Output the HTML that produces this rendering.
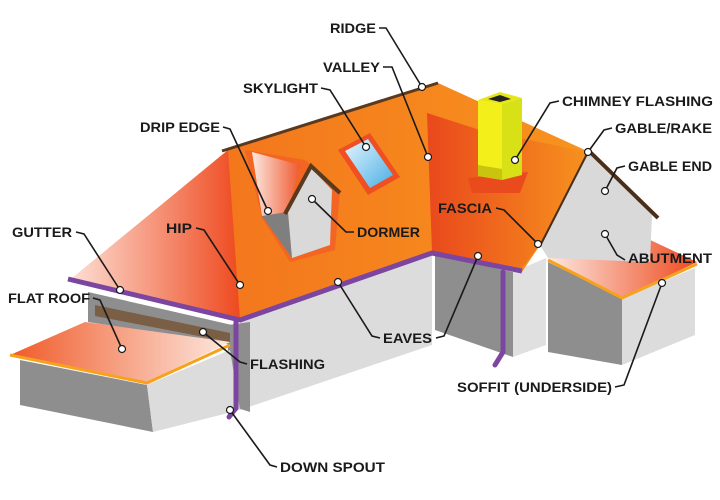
<!DOCTYPE html>
<html><head><meta charset="utf-8"><style>html,body{margin:0;padding:0;background:#fff}svg{display:block}</style></head><body>
<svg width="720" height="500" viewBox="0 0 720 500" xmlns="http://www.w3.org/2000/svg">
<defs>
<linearGradient id="hip" x1="0" y1="0" x2="1" y2="0"><stop offset="0" stop-color="#fde0d6"/><stop offset="1" stop-color="#ee4a1f"/></linearGradient>
<linearGradient id="roof" x1="0" y1="0" x2="1" y2="0"><stop offset="0" stop-color="#f26a1c"/><stop offset="1" stop-color="#f7931e"/></linearGradient>
<linearGradient id="cross" x1="0" y1="0" x2="1" y2="0"><stop offset="0" stop-color="#e9481c"/><stop offset="1" stop-color="#f7921e"/></linearGradient>
<linearGradient id="flat" x1="0" y1="0" x2="1" y2="0"><stop offset="0" stop-color="#f05a28"/><stop offset="1" stop-color="#fde8e0"/></linearGradient>
<linearGradient id="abut" x1="0" y1="0" x2="1" y2="0"><stop offset="0" stop-color="#fde8e0"/><stop offset="1" stop-color="#ee4a1f"/></linearGradient>
<linearGradient id="dormside" x1="0" y1="0" x2="1" y2="0"><stop offset="0" stop-color="#fde8e0"/><stop offset="1" stop-color="#ef5a30"/></linearGradient>
<linearGradient id="sky" x1="0" y1="0" x2="1" y2="1"><stop offset="0" stop-color="#e6f6fd"/><stop offset="1" stop-color="#4aaee6"/></linearGradient>
</defs>
<!-- wing walls -->
<polygon points="548,262 622,298 622,365 548,352" fill="#8e8e8e"/>
<polygon points="622,298 695,268 695,335 622,365" fill="#dcdcdc"/>
<polygon points="548,258 612,222 697,262 622,298" fill="url(#abut)"/>
<polyline points="548,260 622,298 697,264" fill="none" stroke="#f6a21c" stroke-width="3"/>
<!-- gable end -->
<polygon points="588,152 652,215 650,262 548,258 540,245" fill="#d9d9d9"/>
<!-- main walls -->
<polygon points="240,322 432,255 432,345 240,410" fill="#dcdcdc"/>
<polygon points="228,325 250,322 250,412 228,405" fill="#8e8e8e"/>
<polygon points="435,255 513,272 513,357 435,330" fill="#8e8e8e"/>
<polygon points="513,272 546,258 546,345 513,357" fill="#e0e0e0"/>
<!-- back wall / flashing behind flat roof -->
<polygon points="88,292 232,325 232,345 88,322" fill="#8e8e8e"/>
<polygon points="95,305 230,333 230,342 95,316" fill="#7a5e45"/>
<!-- flat roof box -->
<polygon points="20,360 147,385 153,432 20,405" fill="#8e8e8e"/>
<polygon points="147,385 230,350 240,410 153,432" fill="#dcdcdc"/>
<polygon points="10,355 85,322 230,342 147,382" fill="url(#flat)"/>
<polyline points="10,355 147,383 230,345" fill="none" stroke="#f6a21c" stroke-width="3"/>
<!-- main roof -->
<polygon points="70,280 228,150 438,83 585,150 540,245 522,272 432,252 240,320" fill="url(#roof)"/>
<polygon points="70,280 228,150 240,320" fill="url(#hip)"/>
<polygon points="427,113 480,130 588,152 540,245 522,268 432,252" fill="url(#cross)"/>
<!-- dormer -->
<polygon points="245,150 305,160 340,190 335,250 290,262 262,218" fill="#f26522"/>
<polygon points="252,152 300,165 288,212 262,216" fill="url(#dormside)"/>
<polygon points="262,216 288,212 292,258" fill="#7f7f7f"/>
<polygon points="288,212 311,168 332,190 330,245 292,258" fill="#d9d9d9"/>
<polyline points="285,214 311,166 340,193" fill="none" stroke="#5a3a1e" stroke-width="4"/>
<!-- skylight -->
<polygon points="338,150 370,133 400,177 368,195" fill="#f04e23"/>
<polygon points="345,151 368,139 393,175 370,188" fill="url(#sky)"/>
<!-- chimney -->
<polygon points="468,178 528,172 520,193 472,193" fill="#ea4b1c"/>
<polygon points="478,100 502,104 502,180 478,176" fill="#f3ef1a"/>
<polygon points="502,104 522,98 522,175 502,180" fill="#d8e016"/>
<polygon points="478,100 500,92 522,98 502,104" fill="#e5e51a"/>
<polygon points="488,99 500,95 511,99 500,102" fill="#222"/>
<polygon points="478,165 502,169 502,180 478,176" fill="#c8c410"/>
<!-- ridge, rake lines -->
<line x1="222" y1="151" x2="438" y2="83" stroke="#5a3a1e" stroke-width="3"/>
<line x1="588" y1="150" x2="658" y2="218" stroke="#4a2e18" stroke-width="4"/>
<line x1="589" y1="150" x2="540" y2="246" stroke="#4a2e18" stroke-width="2"/>
<!-- gutters -->
<polyline points="68,279 240,320 432,253 522,271" fill="none" stroke="#7b45a0" stroke-width="5" stroke-linejoin="round"/>
<polyline points="236,322 236,408 229,417" fill="none" stroke="#7b45a0" stroke-width="5" stroke-linecap="round"/>
<polyline points="503,272 503,352 495,365" fill="none" stroke="#7b45a0" stroke-width="5" stroke-linecap="round"/>
<!-- leaders -->
<g fill="none" stroke="#1a1a1a" stroke-width="1.6">
<polyline points="379,28 386,28 422,87"/>
<polyline points="383,67 392,67 428,157"/>
<polyline points="321,88 330,90 366,147"/>
<polyline points="223,127 230,129 268,211"/>
<polyline points="76,232 84,234 120,290"/>
<polyline points="196,228 204,230 240,285"/>
<polyline points="93,298 100,300 122,349"/>
<polyline points="354,232 346,232 312,199"/>
<polyline points="496,208 504,210 538,244"/>
<polyline points="559,101 550,103 515,160"/>
<polyline points="612,128 604,130 588,152"/>
<polyline points="625,166 617,168 605,191"/>
<polyline points="625,260 617,255 605,234"/>
<polyline points="380,338 372,336 338,282"/>
<polyline points="436,338 444,336 478,256"/>
<polyline points="247,364 240,362 203,332"/>
<polyline points="615,387 624,385 662,283"/>
<polyline points="277,467 270,465 230,410"/>
</g>
<g fill="#fff" stroke="#1a1a1a" stroke-width="1.2">
<circle cx="422" cy="87" r="3.5"/><circle cx="428" cy="157" r="3.5"/><circle cx="366" cy="147" r="3.5"/>
<circle cx="268" cy="211" r="3.5"/><circle cx="120" cy="290" r="3.5"/><circle cx="240" cy="285" r="3.5"/>
<circle cx="122" cy="349" r="3.5"/><circle cx="312" cy="199" r="3.5"/><circle cx="538" cy="244" r="3.5"/>
<circle cx="515" cy="160" r="3.5"/><circle cx="588" cy="152" r="3.5"/><circle cx="605" cy="191" r="3.5"/>
<circle cx="605" cy="234" r="3.5"/><circle cx="338" cy="282" r="3.5"/><circle cx="478" cy="256" r="3.5"/>
<circle cx="203" cy="332" r="3.5"/><circle cx="662" cy="283" r="3.5"/><circle cx="230" cy="410" r="3.5"/>
</g>
<g font-family="Liberation Sans, sans-serif" font-weight="bold" font-size="14" fill="#1a1a1a">
<text x="330" y="33" textLength="46" lengthAdjust="spacingAndGlyphs">RIDGE</text>
<text x="323" y="72" textLength="57" lengthAdjust="spacingAndGlyphs">VALLEY</text>
<text x="243" y="93" textLength="75" lengthAdjust="spacingAndGlyphs">SKYLIGHT</text>
<text x="140" y="132" textLength="80" lengthAdjust="spacingAndGlyphs">DRIP EDGE</text>
<text x="12" y="237" textLength="60" lengthAdjust="spacingAndGlyphs">GUTTER</text>
<text x="166" y="233" textLength="26" lengthAdjust="spacingAndGlyphs">HIP</text>
<text x="8" y="303" textLength="82" lengthAdjust="spacingAndGlyphs">FLAT ROOF</text>
<text x="357" y="237" textLength="63" lengthAdjust="spacingAndGlyphs">DORMER</text>
<text x="438" y="213" textLength="54" lengthAdjust="spacingAndGlyphs">FASCIA</text>
<text x="562" y="106" textLength="151" lengthAdjust="spacingAndGlyphs">CHIMNEY FLASHING</text>
<text x="615" y="133" textLength="97" lengthAdjust="spacingAndGlyphs">GABLE/RAKE</text>
<text x="628" y="171" textLength="84" lengthAdjust="spacingAndGlyphs">GABLE END</text>
<text x="628" y="263" textLength="84" lengthAdjust="spacingAndGlyphs">ABUTMENT</text>
<text x="383" y="343" textLength="49" lengthAdjust="spacingAndGlyphs">EAVES</text>
<text x="250" y="369" textLength="75" lengthAdjust="spacingAndGlyphs">FLASHING</text>
<text x="457" y="392" textLength="155" lengthAdjust="spacingAndGlyphs">SOFFIT (UNDERSIDE)</text>
<text x="280" y="472" textLength="105" lengthAdjust="spacingAndGlyphs">DOWN SPOUT</text>
</g>
</svg>
</body></html>
